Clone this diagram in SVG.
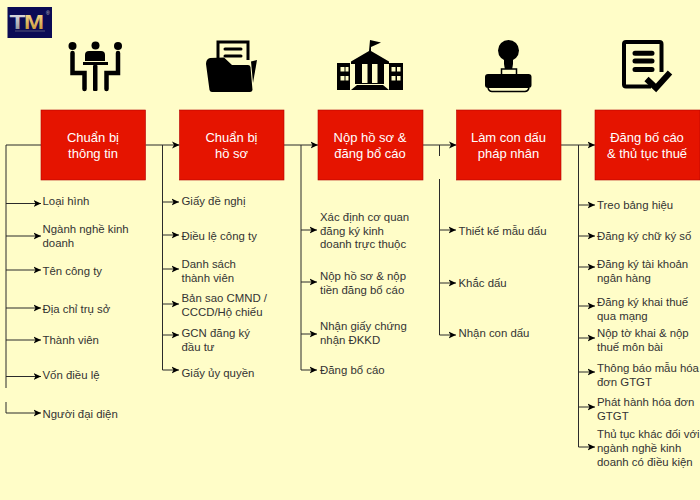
<svg xmlns="http://www.w3.org/2000/svg" width="700" height="500" viewBox="0 0 700 500">
<style>
.box{fill:#e51400;stroke:#b20000;stroke-width:.6}
.bt{font:13px "Liberation Sans",Arial,sans-serif;fill:#fff;text-anchor:middle}
.t{font:11.400px "Liberation Sans",Arial,sans-serif;fill:#333}
.c{fill:none;stroke:#2b2b2b;stroke-width:1}
.a{marker-end:url(#arr)}
</style>
<defs>
<marker id="arr" markerUnits="userSpaceOnUse" markerWidth="9" markerHeight="9" refX="7.500" refY="4.500" orient="auto"><path d="M0,1 L7.500,4.500 L0,8 L2,4.500Z" fill="#000"/></marker>
<linearGradient id="sil" x1="0" y1="0" x2="0" y2="1"><stop offset="0" stop-color="#f0f0f0"/><stop offset="1" stop-color="#8a8a92"/></linearGradient>
<linearGradient id="gold" x1="0" y1="0" x2="0" y2="1"><stop offset="0" stop-color="#fbe9a0"/><stop offset="1" stop-color="#c58f2c"/></linearGradient>
</defs>
<rect width="700" height="500" fill="#fffdc8"/>

<g id="logo">
<rect x="7.500" y="7" width="44.500" height="31" fill="#0b0b55"/>
<text x="9.500" y="28.500" font-family="'Liberation Sans',sans-serif" font-weight="700" font-size="21" fill="url(#sil)" textLength="16" lengthAdjust="spacingAndGlyphs">T</text>
<text x="24" y="28.500" font-family="'Liberation Sans',sans-serif" font-weight="700" font-size="21" fill="url(#gold)" textLength="20" lengthAdjust="spacingAndGlyphs">M</text>
<text x="46" y="15" font-family="'Liberation Sans',sans-serif" font-size="5" fill="#ccc">®</text>
<rect x="15" y="30.500" width="30" height="1" fill="#55557a"/>
</g>

<g id="connectors">
<path class="c" d="M41,145H6V388M6,402V413"/>
<path class="c a" d="M6,413H41"/>
<path class="c a" d="M6,203.500H41"/><path class="c a" d="M6,236H41"/><path class="c a" d="M6,270H41"/><path class="c a" d="M6,308H41"/><path class="c a" d="M6,340H41"/><path class="c a" d="M6,376.500H41"/>
<path class="c a" d="M145.500,145H179.500"/>
<path class="c" d="M162.500,145V370"/>
<path class="c a" d="M162.500,202H179"/><path class="c a" d="M162.500,235H179"/><path class="c a" d="M162.500,269H179"/><path class="c a" d="M162.500,304H179"/><path class="c a" d="M162.500,335H179"/><path class="c a" d="M162.500,370H179"/>
<path class="c a" d="M284,145H318"/>
<path class="c" d="M301,145V370"/>
<path class="c a" d="M301,230H317"/><path class="c a" d="M301,282H317"/><path class="c a" d="M301,334H317"/><path class="c a" d="M301,370H317"/>
<path class="c a" d="M423,145H456.500"/>
<path class="c" d="M439.500,145V156M439.500,179V335"/>
<path class="c a" d="M439.500,230H456"/><path class="c a" d="M439.500,283H456"/><path class="c a" d="M439.500,335H456"/>
<path class="c a" d="M561,145H595"/>
<path class="c" d="M578.500,145V447"/>
<path class="c a" d="M578.500,205H595"/><path class="c a" d="M578.500,236H595"/><path class="c a" d="M578.500,267H595"/><path class="c a" d="M578.500,306H595"/><path class="c a" d="M578.500,338H595"/><path class="c a" d="M578.500,372H595"/><path class="c a" d="M578.500,407H595"/><path class="c a" d="M578.500,447H595"/>
</g>

<g id="icon-meeting" fill="#000">
<circle cx="72.500" cy="46" r="4"/><circle cx="95.500" cy="45.500" r="4"/><circle cx="118" cy="46" r="4"/>
<path d="M85,61V55Q85,51 89,51H101Q105,51 105,55V61Z"/>
<rect x="83" y="62" width="25" height="3"/>
<rect x="93" y="65" width="4.500" height="26" rx="1"/>
<path d="M72.500,53V73H84.500V89M118,53V73H106.500V89" fill="none" stroke="#000" stroke-width="4.500" stroke-linecap="round"/>
</g>

<g id="icon-folder">
<path d="M218,60V42H248V60" fill="none" stroke="#000" stroke-width="3"/>
<path d="M225,49H241M225,56H241" stroke="#000" stroke-width="3" stroke-linecap="round"/>
<path d="M206,64Q206,59 210,58L224,57.500L232,65H248Q250,65 250.500,67L252.500,90Q252,92 250,92H212Q210,92 209.500,90Z"/>
<path d="M251,61.500L257,60L253,83Z"/>
</g>

<g id="icon-school">
<path d="M337,63H350V90H337ZM389,63H403V90H389Z"/>
<path d="M351,61.500L369,51L370,40L381,42.500L371,47V51L389,61.500V64H351Z"/>
<path d="M355,64H384V84H355Z"/>
<path d="M362,64H367.500V83H362ZM372,64H377.500V83H372Z" fill="#fffdc8"/>
<path d="M351,90L357,85H383L389,90Z"/>
<g fill="#fffdc8"><rect x="340.500" y="67" width="4" height="4.500"/><rect x="345.500" y="67" width="3" height="4.500"/><rect x="340.500" y="76" width="4" height="4.500"/><rect x="345.500" y="76" width="3" height="4.500"/><rect x="391.500" y="67" width="4" height="4.500"/><rect x="397" y="67" width="3.500" height="4.500"/><rect x="391.500" y="76" width="4" height="4.500"/><rect x="397" y="76" width="3.500" height="4.500"/></g>
</g>

<g id="icon-stamp">
<circle cx="508.500" cy="50.500" r="10.500"/>
<path d="M504,58H513V64L512,70H505L504,64Z"/>
<rect x="501.500" y="69" width="15" height="6" fill="#fffdc8" stroke="#000" stroke-width="1.500"/>
<rect x="485" y="74" width="46.500" height="14" rx="3"/>
<path d="M488,88Q489,91.500 492,91.500H525Q528,91.500 529,88" fill="#fffdc8" stroke="#000" stroke-width="1.500"/>
</g>

<g id="icon-doc">
<path d="M651,86.500H626Q624,86.500 624,84.500V44Q624,42 626,42H659.500Q661.500,42 661.500,44V72" fill="none" stroke="#000" stroke-width="4"/>
<path d="M635,53.300H652M635,61H652M635,69.500H652" stroke="#000" stroke-width="5" stroke-linecap="round"/>
<path d="M646.500,79L656,88L670,72.500" fill="none" stroke="#000" stroke-width="6"/>
</g>

<g id="node1"><rect class="box" x="41" y="110" width="104.500" height="70"/><text class="bt" x="93" y="142">Chuẩn bị</text><text class="bt" x="93" y="157.500">thông tin</text></g>
<g id="node2"><rect class="box" x="179.500" y="110" width="104.500" height="70"/><text class="bt" x="231.500" y="142">Chuẩn bị</text><text class="bt" x="231.500" y="157.500">hồ sơ</text></g>
<g id="node3"><rect class="box" x="318" y="110" width="105" height="70"/><text class="bt" x="370" y="142">Nộp hồ sơ &amp;</text><text class="bt" x="370" y="157.500">đăng bổ cáo</text></g>
<g id="node4"><rect class="box" x="456.500" y="110" width="104.500" height="70"/><text class="bt" x="508.500" y="142">Làm con dấu</text><text class="bt" x="508.500" y="157.500">pháp nhân</text></g>
<g id="node5"><rect class="box" x="595" y="110" width="105" height="70"/><text class="bt" x="647" y="142">Đăng bố cáo</text><text class="bt" x="647" y="157.500">&amp; thủ tục thuế</text></g>

<g id="list1">
<text class="t" x="42.500" y="205">Loại hình</text>
<text class="t" x="42.500" y="233">Ngành nghề kinh</text><text class="t" x="42.500" y="247">doanh</text>
<text class="t" x="42.500" y="274.500">Tên công ty</text>
<text class="t" x="42.500" y="313">Địa chỉ trụ sở</text>
<text class="t" x="42.500" y="344">Thành viên</text>
<text class="t" x="42.500" y="379">Vốn điều lệ</text>
<text class="t" x="42.500" y="418">Người đại diện</text>
</g>
<g id="list2">
<text class="t" x="181.500" y="205">Giấy đề nghị</text>
<text class="t" x="181.500" y="240">Điều lệ công ty</text>
<text class="t" x="181.500" y="268">Danh sách</text><text class="t" x="181.500" y="282">thành viên</text>
<text class="t" x="181.500" y="302">Bản sao CMND /</text><text class="t" x="181.500" y="316">CCCD/Hộ chiếu</text>
<text class="t" x="181.500" y="337">GCN đăng ký</text><text class="t" x="181.500" y="351">đầu tư</text>
<text class="t" x="181.500" y="377">Giấy ủy quyền</text>
</g>
<g id="list3">
<text class="t" x="320" y="221">Xác định cơ quan</text><text class="t" x="320" y="235">đăng ký kinh</text><text class="t" x="320" y="248">doanh trực thuộc</text>
<text class="t" x="320" y="280">Nộp hồ sơ &amp; nộp</text><text class="t" x="320" y="294">tiền đăng bổ cáo</text>
<text class="t" x="320" y="330">Nhận giấy chứng</text><text class="t" x="320" y="344">nhận ĐKKD</text>
<text class="t" x="320" y="374">Đăng bổ cáo</text>
</g>
<g id="list4">
<text class="t" x="458.500" y="235">Thiết kế mẫu dấu</text>
<text class="t" x="458.500" y="287">Khắc dấu</text>
<text class="t" x="458.500" y="337">Nhận con dấu</text>
</g>
<g id="list5">
<text class="t" x="597" y="209">Treo bảng hiệu</text>
<text class="t" x="597" y="240">Đăng ký chữ ký số</text>
<text class="t" x="597" y="268">Đăng ký tài khoản</text><text class="t" x="597" y="282">ngân hàng</text>
<text class="t" x="597" y="306">Đăng ký khai thuế</text><text class="t" x="597" y="320">qua mạng</text>
<text class="t" x="597" y="337">Nộp tờ khai &amp; nộp</text><text class="t" x="597" y="351">thuế môn bài</text>
<text class="t" x="597" y="372">Thông báo mẫu hóa</text><text class="t" x="597" y="386">đơn GTGT</text>
<text class="t" x="597" y="406">Phát hành hóa đơn</text><text class="t" x="597" y="420">GTGT</text>
<text class="t" x="597" y="438">Thủ tục khác đối với</text><text class="t" x="597" y="452">ngành nghề kinh</text><text class="t" x="597" y="466">doanh có điều kiện</text>
</g>
</svg>
